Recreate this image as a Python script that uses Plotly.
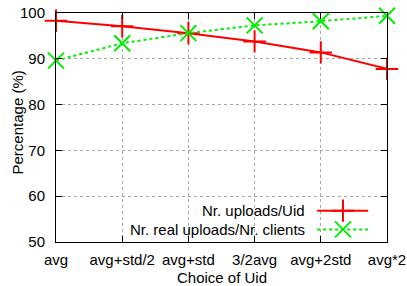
import plotly.graph_objects as go

categories = ["avg", "avg+std/2", "avg+std", "3/2avg", "avg+2std", "avg*2"]
uploads_per_uid = [98.3, 97.1, 95.6, 93.8, 91.4, 87.8]
real_uploads_per_client = [89.6, 93.4, 95.6, 97.3, 98.2, 99.4]
y_ticks = [50, 60, 70, 80, 90, 100]
series_names = ["Nr. uploads/Uid", "Nr. real uploads/Nr. clients"]

FONT = "Liberation Sans"
RED = "#ff0000"
GREEN = "#00ee00"
FS = 15

xidx = list(range(len(categories)))

fig = go.Figure()
fig.add_trace(go.Scatter(
    x=xidx, y=uploads_per_uid, mode="lines+markers", name=series_names[0],
    line=dict(color=RED, width=2),
    marker=dict(symbol="cross-thin-open", size=16, color=RED, line=dict(color=RED, width=2)),
    cliponaxis=False, showlegend=False))
fig.add_trace(go.Scatter(
    x=xidx, y=real_uploads_per_client, mode="lines+markers", name=series_names[1],
    line=dict(color=GREEN, width=2, dash="dot"),
    marker=dict(symbol="x-thin-open", size=16, color=GREEN, line=dict(color=GREEN, width=2)),
    cliponaxis=False, showlegend=False))

# custom gnuplot-style legend (text left, sample right) on a hidden overlay axis
leg_y = [0.137, 0.055]
fig.add_trace(go.Scatter(x=[0.789, 0.943], y=[leg_y[0]] * 2, mode="lines", xaxis="x2", yaxis="y2",
                         line=dict(color=RED, width=2), showlegend=False, hoverinfo="skip"))
fig.add_trace(go.Scatter(x=[0.867], y=[leg_y[0]], mode="markers", xaxis="x2", yaxis="y2",
                         marker=dict(symbol="cross-thin-open", size=16, color=RED, line=dict(color=RED, width=2)),
                         showlegend=False, hoverinfo="skip", cliponaxis=False))
fig.add_trace(go.Scatter(x=[0.789, 0.943], y=[leg_y[1]] * 2, mode="lines", xaxis="x2", yaxis="y2",
                         line=dict(color=GREEN, width=2, dash="dot"), showlegend=False, hoverinfo="skip"))
fig.add_trace(go.Scatter(x=[0.867], y=[leg_y[1]], mode="markers", xaxis="x2", yaxis="y2",
                         marker=dict(symbol="x-thin-open", size=16, color=GREEN, line=dict(color=GREEN, width=2)),
                         showlegend=False, hoverinfo="skip", cliponaxis=False))

for name, yy in zip(series_names, leg_y):
    fig.add_annotation(x=0.758, y=yy, xref="x2", yref="y2", text=name, showarrow=False,
                       xanchor="right", yanchor="middle", font=dict(family=FONT, size=FS, color="black"))

# axis titles as annotations (gnuplot-like placement)
fig.add_annotation(x=0, y=0.5, xref="paper", yref="paper", text="Percentage (%)", textangle=-90,
                   showarrow=False, xanchor="center", yanchor="middle", xshift=-39, yshift=5,
                   font=dict(family=FONT, size=FS, color="black"))
fig.add_annotation(x=0.5, y=0, xref="paper", yref="paper", text="Choice of Uid",
                   showarrow=False, xanchor="center", yanchor="middle", yshift=-35,
                   font=dict(family=FONT, size=FS, color="black"))

axis_common = dict(showline=True, linecolor="black", linewidth=1, mirror="ticks",
                   ticks="inside", ticklen=6, tickcolor="black",
                   showgrid=True, gridcolor="#a8a8a8", griddash="dot", gridwidth=1,
                   zeroline=False, tickfont=dict(family=FONT, size=FS, color="black"))

fig.update_layout(
    width=407, height=286,
    margin=dict(l=56, r=20, t=13, b=44, autoexpand=False),
    paper_bgcolor="white", plot_bgcolor="white",
    xaxis=dict(range=[0, len(categories) - 1], tickmode="array", tickvals=xidx, ticktext=categories,
               ticklabelstandoff=4, **axis_common),
    yaxis=dict(range=[50, 100], tickmode="array", tickvals=y_ticks, ticklabelstandoff=7,
               **axis_common),
    xaxis2=dict(overlaying="x", range=[0, 1], visible=False),
    yaxis2=dict(overlaying="y", range=[0, 1], visible=False),
    showlegend=False,
)

fig.write_html(
    "out.html",
    config={"displayModeBar": False},
    post_script="document.body.style.margin='0';document.body.style.overflow='hidden';",
)
